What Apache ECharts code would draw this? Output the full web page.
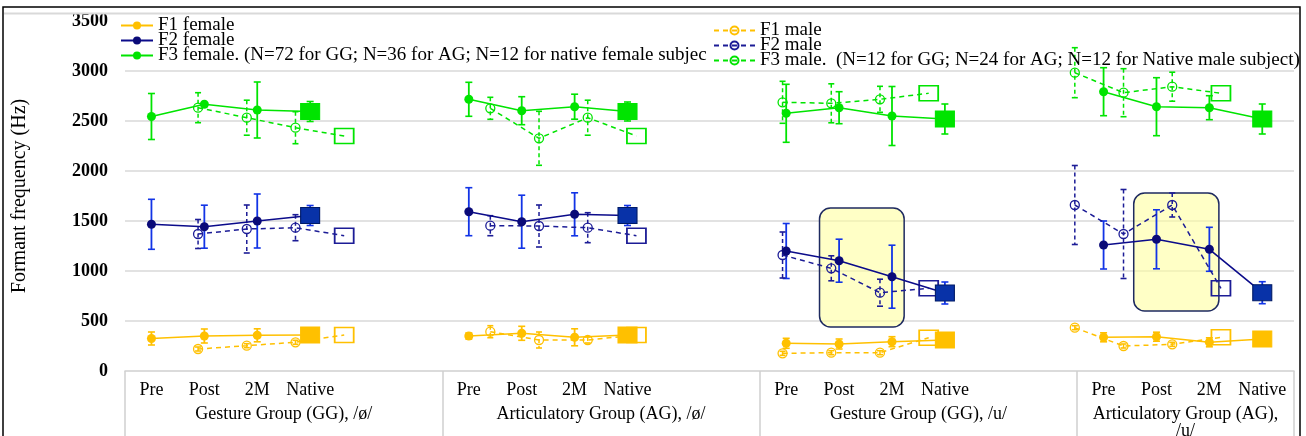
<!DOCTYPE html>
<html><head><meta charset="utf-8">
<script src="https://cdn.jsdelivr.net/npm/echarts@6/dist/echarts.min.js"></script>
<style>html,body{margin:0;padding:0;background:#fff}#c{width:1306px;height:436px}</style>
</head><body><div id="c"></div>
<script>
// ---- categories ----
const phases = ['Pre', 'Post', '2M', 'Native'];
const groups = ['Gesture Group (GG), /ø/', 'Articulatory Group (AG), /ø/', 'Gesture Group (GG), /u/', 'Articulatory Group (AG),\n/u/'];
const yTicks = [0, 500, 1000, 1500, 2000, 2500, 3000, 3500];

// ---- series names ----
const nF1f = 'F1 female';
const nF2f = 'F2 female';
const nF3f = 'F3 female. (N=72 for GG; N=36 for AG; N=12 for native female subjec';
const nF1m = 'F1 male';
const nF2m = 'F2 male';
const nF3m = 'F3 male.  (N=12 for GG; N=24 for AG; N=12 for Native male subject)';

// ---- values: per group [Pre, Post, 2M, Native] ----
const f1Female    = [[325, 350, 357, 360], [350, 377, 337, 360], [277, 270, 293, 310], [337, 343, 287, 320]];
const f1FemaleErr = [[65, 70, 65, 0], [30, 70, 85, 0], [50, 50, 50, 0], [45, 45, 45, 0]];
const f2Female    = [[1467, 1443, 1500, 1555], [1593, 1493, 1567, 1555], [1200, 1103, 943, 780], [1260, 1317, 1217, 783]];
const f2FemaleErr = [[250, 215, 270, 100], [240, 265, 215, 100], [275, 215, 315, 110], [240, 295, 220, 110]];
const f3Female    = [[2545, 2667, 2610, 2595], [2717, 2603, 2643, 2595], [2577, 2633, 2550, 2520], [2793, 2643, 2633, 2520]];
const f3FemaleErr = [[230, 0, 280, 100], [170, 140, 125, 95], [290, 160, 295, 150], [240, 290, 120, 150]];

const f1Male    = [[220, 253, 287, 360], [393, 310, 310, 360], [177, 183, 183, 333], [433, 250, 267, 337]];
const f1MaleErr = [[20, 20, 20, 0], [60, 80, 30, 0], [20, 20, 20, 0], [20, 20, 20, 0]];
const f2Male    = [[1370, 1420, 1433, 1353], [1453, 1450, 1433, 1353], [1160, 1027, 783, 827], [1660, 1370, 1660, 827]];
const f2MaleErr = [[145, 240, 130, 0], [100, 210, 150, 0], [230, 125, 135, 0], [395, 445, 120, 0]];
const f3Male    = [[2633, 2533, 2433, 2350], [2627, 2327, 2533, 2350], [2687, 2677, 2717, 2777], [2983, 2783, 2843, 2777]];
const f3MaleErr = [[150, 175, 160, 0], [110, 270, 175, 0], [210, 195, 130, 0], [250, 240, 145, 0]];

// highlighted regions [xFrom, yTop, xTo, yBottom] in female-axis category units / Hz
const highlightBoxes = [[12.63, 1630, 14.23, 440], [18.57, 1780, 20.18, 600]];

// ---- styles ----
const SERIF = 'Liberation Serif';
const C1 = '#ffc000', C2 = '#0b0b8a', C2bar = '#1234e6', C3 = '#00e400';
const FEMALE_MAX = 21.6, MALE_MAX = 23.5;

function xFemale(g, k) { return g * 6 + k; }
function xMale(g, k) { return g * 6 + 1 + k; }

function lineData(vals, xf, nativeStyle) {
  const out = [];
  vals.forEach((grp, g) => {
    grp.forEach((v, k) => {
      if (k === 3) out.push(Object.assign({ value: [xf(g, k), v] }, nativeStyle));
      else out.push({ value: [xf(g, k), v] });
    });
    out.push({ value: [xf(g, 4), '-'] });
  });
  return out;
}
function errData(vals, errs, xf) {
  const out = [];
  vals.forEach((grp, g) => grp.forEach((v, k) => {
    if (errs[g][k] > 0) out.push([xf(g, k), v - errs[g][k], v + errs[g][k]]);
  }));
  return out;
}

function femaleLine(name, vals, lineCol, markCol, sqFill, sqBorder) {
  return {
    name, type: 'line', xAxisIndex: 0, data: lineData(vals, xFemale, {
      symbol: 'rect', symbolSize: [19, 16],
      itemStyle: { color: sqFill, borderColor: sqBorder, borderWidth: 1 }
    }),
    symbol: 'circle', symbolSize: 9, showAllSymbol: true, connectNulls: false,
    lineStyle: { color: lineCol, width: 1.6 }, itemStyle: { color: markCol },
    z: 5, animation: false, silent: true
  };
}
function maleLine(name, vals, col) {
  return {
    name, type: 'line', xAxisIndex: 2, data: lineData(vals, xMale, {
      symbol: 'rect', symbolSize: [19, 15],
      itemStyle: { color: 'rgba(255,255,255,0)', borderColor: col, borderWidth: 1.6 }
    }),
    symbol: 'circle', symbolSize: 9, showAllSymbol: true, connectNulls: false,
    lineStyle: { color: col, width: 1.5, type: [5, 4] },
    itemStyle: { color: 'rgba(255,255,255,0)', borderColor: col, borderWidth: 1.3 },
    z: 4, animation: false, silent: true
  };
}
function errSeries(name, data, axis, col, dashed, cap) {
  return {
    name, type: 'custom', xAxisIndex: axis, data, encode: { x: 0, y: [1, 2] },
    silent: true, animation: false, z: 3,
    renderItem: function (params, api) {
      const x = api.value(0);
      const top = api.coord([x, api.value(2)]);
      const bot = api.coord([x, api.value(1)]);
      const st = { stroke: col, lineWidth: dashed ? 1.5 : 1.8, lineDash: dashed ? [4, 3] : null };
      const cs = { stroke: col, lineWidth: 1.6 };
      return {
        type: 'group', children: [
          { type: 'line', shape: { x1: top[0], y1: top[1], x2: bot[0], y2: bot[1] }, style: st },
          { type: 'line', shape: { x1: top[0] - cap, y1: top[1], x2: top[0] + cap, y2: top[1] }, style: cs },
          { type: 'line', shape: { x1: bot[0] - cap, y1: bot[1], x2: bot[0] + cap, y2: bot[1] }, style: cs }
        ]
      };
    }
  };
}

const femaleLabelValues = [];
const groupLabelValues = [2.5, 8.5, 14.5, 19.55];
groups.forEach((_, g) => phases.forEach((_, k) => femaleLabelValues.push(xFemale(g, k))));

const option = {
  animation: false,
  backgroundColor: '#fff',
  grid: { left: 125, right: 12, top: 21, bottom: 65, containLabel: false, outerBoundsMode: 'none' },
  legend: [
    {
      data: [nF1f, nF2f, nF3f], orient: 'vertical', left: 120, top: 16,
      itemWidth: 32, itemHeight: 10, itemGap: -4, padding: 0,
      textStyle: { fontFamily: SERIF, fontSize: 19, color: '#000', lineHeight: 15 },
      selectedMode: false
    },
    {
      data: [nF1m, nF2m, nF3m], orient: 'vertical', left: 713, top: 21,
      itemWidth: 41, itemHeight: 10, itemGap: -4, padding: 0,
      textStyle: { fontFamily: SERIF, fontSize: 19, color: '#000', lineHeight: 15 },
      selectedMode: false
    }
  ],
  xAxis: [
    {
      type: 'value', min: -0.5, max: FEMALE_MAX, position: 'bottom',
      axisLine: { show: true, onZero: false, lineStyle: { color: '#d0d0d0', width: 1.5 } },
      axisTick: { show: true, customValues: [-0.5, 5.5, 11.5, 17.5, FEMALE_MAX], length: 66, lineStyle: { color: '#d0d0d0', width: 1.5 } },
      axisLabel: {
        customValues: femaleLabelValues, margin: 10,
        formatter: v => phases[Math.round(v) % 6],
        fontFamily: SERIF, fontSize: 18, color: '#000'
      },
      splitLine: { show: false }
    },
    {
      type: 'value', min: -0.5, max: FEMALE_MAX, position: 'bottom',
      axisLine: { show: false }, axisTick: { show: false }, splitLine: { show: false },
      axisLabel: {
        customValues: groupLabelValues, margin: 35,
        formatter: v => groups[groupLabelValues.indexOf(v)],
        fontFamily: SERIF, fontSize: 18, color: '#000', lineHeight: 17
      }
    },
    { type: 'value', min: -0.5, max: MALE_MAX, show: false, splitLine: { show: false } }
  ],
  yAxis: {
    type: 'value', min: 0, max: 3500, interval: 500,
    axisLine: { show: false }, axisTick: { show: false },
    splitLine: { show: true, showMaxLine: false, showMinLine: false, lineStyle: { color: '#d9d9d9', width: 1.5 } },
    axisLabel: { fontFamily: SERIF, fontWeight: 'bold', fontSize: 18, color: '#000', margin: 17,
      formatter: v => String(yTicks[yTicks.indexOf(v)]) },
    name: 'Formant frequency (Hz)', nameLocation: 'middle', nameGap: 95,
    nameTextStyle: { fontFamily: SERIF, fontSize: 20, color: '#000' }
  },
  graphic: [
    { type: 'rect', silent: true, z: 100, shape: { x: 3, y: 7, width: 1297, height: 440 }, style: { fill: 'none', stroke: '#000', lineWidth: 1.5 } },
    { type: 'line', silent: true, z: 100, shape: { x1: 4, y1: 13.5, x2: 1299, y2: 13.5 }, style: { stroke: '#d9d9d9', lineWidth: 2 } }
  ],
  series: [
    {
      type: 'custom', xAxisIndex: 0, data: highlightBoxes, encode: { x: [0, 2], y: [1, 3] },
      silent: true, animation: false, z: 1,
      renderItem: function (params, api) {
        const p1 = api.coord([api.value(0), api.value(1)]);
        const p2 = api.coord([api.value(2), api.value(3)]);
        return {
          type: 'rect', shape: { x: p1[0], y: p1[1], width: p2[0] - p1[0], height: p2[1] - p1[1], r: 11 },
          style: { fill: 'rgba(255,255,160,0.6)', stroke: '#1e2a60', lineWidth: 1.5 }
        };
      }
    },
    femaleLine(nF1f, f1Female, C1, C1, C1, C1),
    femaleLine(nF2f, f2Female, C2, '#0a0a78', '#0832a8', '#001a66'),
    femaleLine(nF3f, f3Female, C3, C3, C3, C3),
    maleLine(nF1m, f1Male, C1),
    maleLine(nF2m, f2Male, '#1c1c96'),
    maleLine(nF3m, f3Male, C3),
    errSeries('e1f', errData(f1Female, f1FemaleErr, xFemale), 0, C1, false, 3.5),
    errSeries('e2f', errData(f2Female, f2FemaleErr, xFemale), 0, C2bar, false, 3.5),
    errSeries('e3f', errData(f3Female, f3FemaleErr, xFemale), 0, C3, false, 3.5),
    errSeries('e1m', errData(f1Male, f1MaleErr, xMale), 2, C1, true, 3),
    errSeries('e2m', errData(f2Male, f2MaleErr, xMale), 2, '#1c1c96', true, 3),
    errSeries('e3m', errData(f3Male, f3MaleErr, xMale), 2, C3, true, 3)
  ]
};

const chart = echarts.init(document.getElementById('c'), null, { renderer: 'canvas' });
chart.setOption(option);
</script>
</body></html>
